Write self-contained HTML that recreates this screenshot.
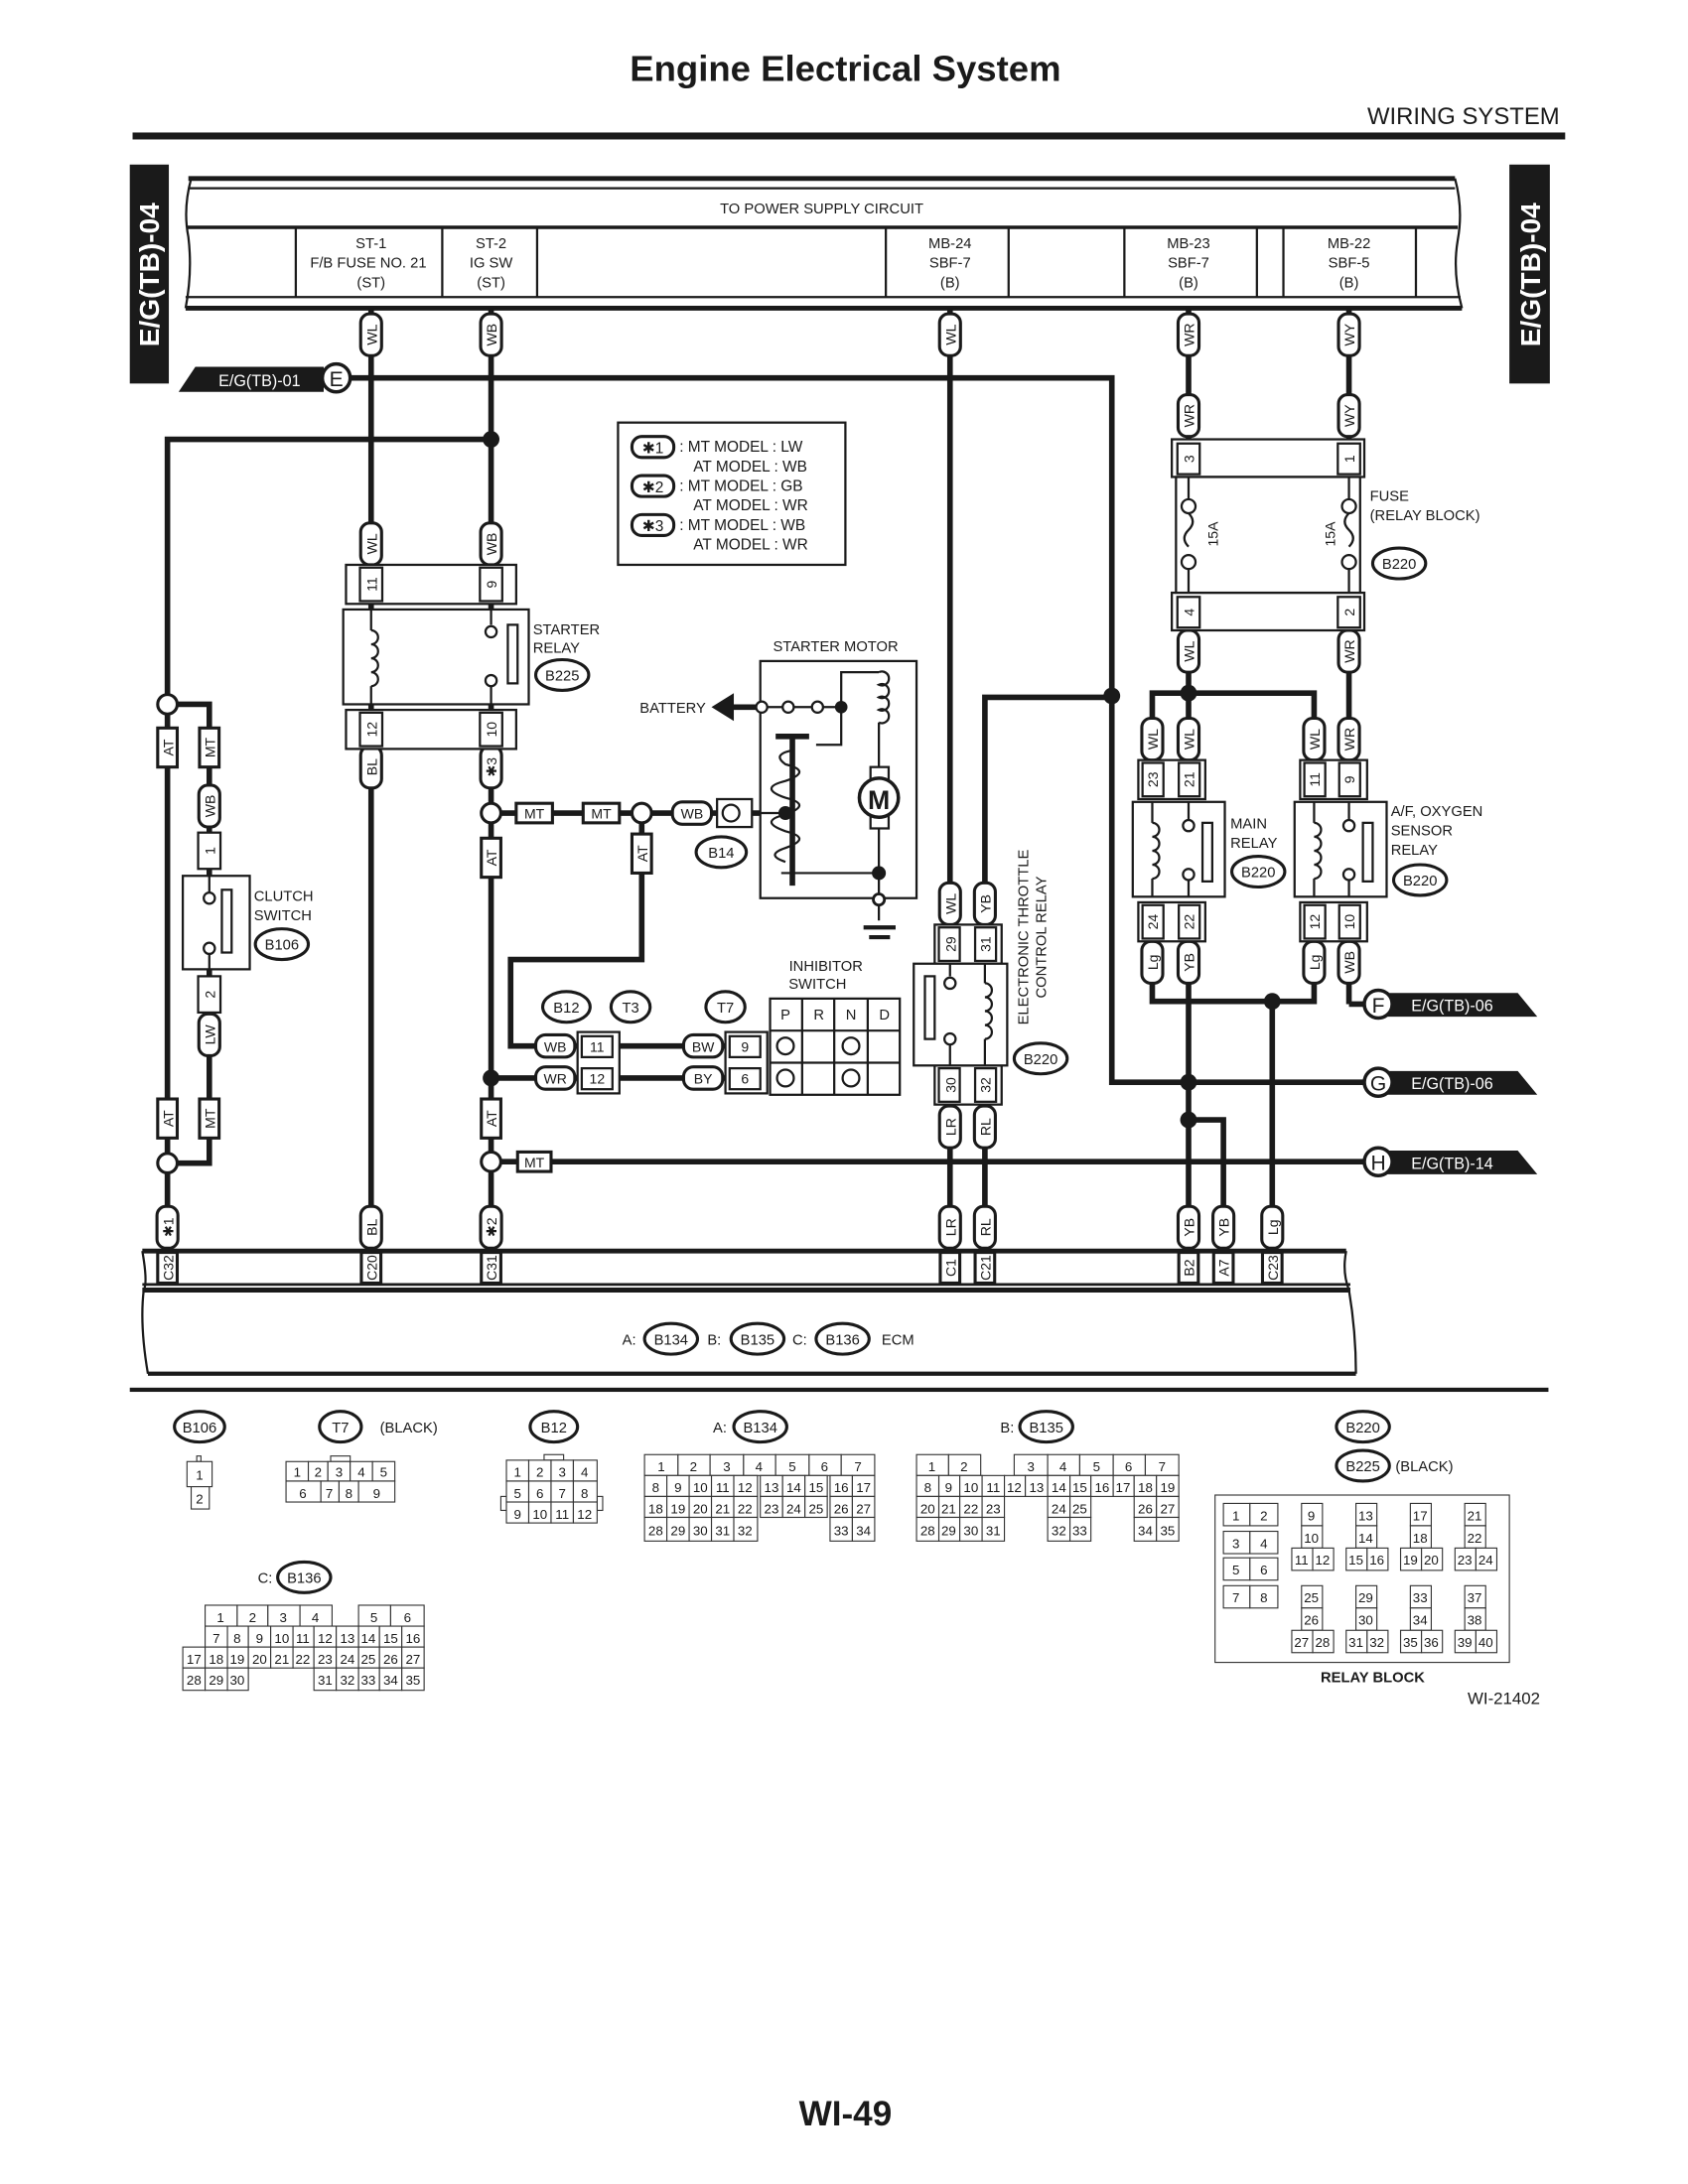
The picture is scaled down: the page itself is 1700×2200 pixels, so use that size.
<!DOCTYPE html>
<html><head><meta charset="utf-8"><style>
html,body{margin:0;padding:0;background:#fff}
svg{display:block}
text{font-family:"Liberation Sans",sans-serif;fill:#1a1a1a}
.w{stroke:#1a1a1a;stroke-width:4;fill:none}
.l{stroke:#1a1a1a;stroke-width:1.6;fill:none}
.b{fill:#fff}
.t{stroke:#1a1a1a;stroke-width:1;fill:none}
.tg{fill:#fff;stroke:#1a1a1a;stroke-width:2.2}
.s{font-size:10.5px}
.m{font-size:11.5px}
.g rect{fill:#fff;stroke:#333;stroke-width:.8}
.g text{font-size:9.5px;text-anchor:middle}
</style></head><body>
<svg width="1700" height="2200" viewBox="0 0 1210 1566" xmlns="http://www.w3.org/2000/svg">
<defs>
<g id="vt"><rect x="-7.5" y="-15" width="15" height="30" rx="6.5" class="tg"/></g>
</defs>
<!-- Header -->
<text x="606" y="58" font-size="26" font-weight="bold" text-anchor="middle">Engine Electrical System</text>
<text x="1118" y="89" font-size="17" text-anchor="end">WIRING SYSTEM</text>
<rect x="95" y="95" width="1027" height="5" fill="#1a1a1a"/>
<!-- side tabs -->
<rect x="93" y="118" width="28" height="157" fill="#1a1a1a"/>
<text transform="translate(114,197) rotate(-90)" font-size="20" font-weight="bold" text-anchor="middle" style="fill:#fff">E/G(TB)-04</text>
<rect x="1082" y="118" width="29" height="157" fill="#1a1a1a"/>
<text transform="translate(1104,197) rotate(-90)" font-size="20" font-weight="bold" text-anchor="middle" style="fill:#fff">E/G(TB)-04</text>

<!-- Power supply box -->
<g class="l" stroke-width="2.2">
<line x1="135" y1="128" x2="1043" y2="128" stroke-width="3.5"/>
<line x1="135" y1="135" x2="1043" y2="135"/>
<line x1="134" y1="163" x2="1045" y2="163" stroke-width="2.5"/>
<line x1="133" y1="213" x2="1047" y2="213"/>
<line x1="133" y1="221" x2="1048" y2="221" stroke-width="3.5"/>
<path d="M137 128 Q131 150 135 170 Q138 195 133 221"/>
<path d="M1043 128 Q1049 150 1045 172 Q1041 195 1048 221"/>
</g>
<g class="l">
<line x1="212" y1="163" x2="212" y2="213"/><line x1="317" y1="163" x2="317" y2="213"/>
<line x1="385" y1="163" x2="385" y2="213"/><line x1="635" y1="163" x2="635" y2="213"/>
<line x1="723" y1="163" x2="723" y2="213"/><line x1="806" y1="163" x2="806" y2="213"/>
<line x1="901" y1="163" x2="901" y2="213"/><line x1="920" y1="163" x2="920" y2="213"/>
<line x1="1015" y1="163" x2="1015" y2="213"/>
</g>
<text x="589" y="153" class="s" text-anchor="middle">TO POWER SUPPLY CIRCUIT</text>
<g class="s" text-anchor="middle">
<text x="266" y="178">ST-1</text><text x="264" y="192">F/B FUSE NO. 21</text><text x="266" y="206">(ST)</text>
<text x="352" y="178">ST-2</text><text x="352" y="192">IG SW</text><text x="352" y="206">(ST)</text>
<text x="681" y="178">MB-24</text><text x="681" y="192">SBF-7</text><text x="681" y="206">(B)</text>
<text x="852" y="178">MB-23</text><text x="852" y="192">SBF-7</text><text x="852" y="206">(B)</text>
<text x="967" y="178">MB-22</text><text x="967" y="192">SBF-5</text><text x="967" y="206">(B)</text>
</g>

<!-- WIRES -->
<g class="w">
<line x1="266" y1="222" x2="266" y2="897"/>
<line x1="352" y1="222" x2="352" y2="897"/>
<line x1="681" y1="222" x2="681" y2="897"/>
<line x1="852" y1="222" x2="852" y2="318"/>
<line x1="967" y1="222" x2="967" y2="318"/>
<polyline points="250,271 797,271 797,776 990,776"/>
<polyline points="352,315 120,315 120,897"/>
<polyline points="120,505 150,505 150,834 120,834"/>
<line x1="352" y1="583" x2="545" y2="583"/>
<polyline points="460,583 460,688 366,688 366,750 440,750"/>
<line x1="352" y1="773" x2="440" y2="773"/>
<line x1="440" y1="750" x2="520" y2="750"/>
<line x1="440" y1="773" x2="520" y2="773"/>
<line x1="352" y1="833" x2="990" y2="833"/>
<polyline points="706,640 706,500 797,500"/>
<line x1="706" y1="790" x2="706" y2="897"/>
<line x1="852" y1="450" x2="852" y2="545"/>
<line x1="967" y1="450" x2="967" y2="545"/>
<polyline points="826,545 826,497 942,497 942,545"/>
<line x1="852" y1="673" x2="852" y2="897"/>
<polyline points="826,673 826,718 942,718 942,673"/>
<line x1="967" y1="673" x2="967" y2="720"/>
<line x1="967" y1="720" x2="990" y2="720"/>
<line x1="912" y1="718" x2="912" y2="897"/>
<polyline points="852,803 877,803 877,897"/>
</g>
<!-- Dots -->
<g fill="#1a1a1a">
<circle cx="352" cy="315" r="6"/><circle cx="797" cy="499" r="6"/><circle cx="852" cy="497" r="6"/>
<circle cx="352" cy="773" r="6"/><circle cx="912" cy="718" r="6"/><circle cx="852" cy="776" r="6"/><circle cx="852" cy="803" r="6"/>
</g>
<g fill="#fff" stroke="#1a1a1a" stroke-width="2.2">
<circle cx="120" cy="505" r="7"/><circle cx="120" cy="834" r="7"/>
<circle cx="352" cy="583" r="7"/><circle cx="460" cy="583" r="7"/><circle cx="352" cy="833" r="7"/>
</g>

<!-- E/G(TB)-01 arrow -->
<polygon points="128,281 140,263 232,263 232,281" fill="#1a1a1a"/>
<text x="186" y="277" class="m" text-anchor="middle" style="fill:#fff">E/G(TB)-01</text>
<circle cx="241" cy="271" r="10" fill="#fff" stroke="#1a1a1a" stroke-width="2.5"/>
<text x="241" y="277" font-size="15" text-anchor="middle">E</text>
<!-- F G H -->
<g>
<polygon points="990,712 1088,712 1102,729 990,729" fill="#1a1a1a"/>
<circle cx="988" cy="720" r="10" fill="#fff" stroke="#1a1a1a" stroke-width="2.5"/>
<text x="988" y="726" font-size="15" text-anchor="middle">F</text>
<text x="1041" y="725" class="m" text-anchor="middle" style="fill:#fff">E/G(TB)-06</text>
<polygon points="990,768 1088,768 1102,785 990,785" fill="#1a1a1a"/>
<circle cx="988" cy="776" r="10" fill="#fff" stroke="#1a1a1a" stroke-width="2.5"/>
<text x="988" y="782" font-size="15" text-anchor="middle">G</text>
<text x="1041" y="781" class="m" text-anchor="middle" style="fill:#fff">E/G(TB)-06</text>
<polygon points="990,825 1088,825 1102,842 990,842" fill="#1a1a1a"/>
<circle cx="988" cy="833" r="10" fill="#fff" stroke="#1a1a1a" stroke-width="2.5"/>
<text x="988" y="839" font-size="15" text-anchor="middle">H</text>
<text x="1041" y="838" class="m" text-anchor="middle" style="fill:#fff">E/G(TB)-14</text>
</g>

<!-- Vertical wire tags -->
<g font-size="10" text-anchor="middle">
<g transform="translate(266,240)"><use href="#vt"/><text transform="rotate(-90)" y="4">WL</text></g>
<g transform="translate(352,240)"><use href="#vt"/><text transform="rotate(-90)" y="4">WB</text></g>
<g transform="translate(681,240)"><use href="#vt"/><text transform="rotate(-90)" y="4">WL</text></g>
<g transform="translate(852,240)"><use href="#vt"/><text transform="rotate(-90)" y="4">WR</text></g>
<g transform="translate(967,240)"><use href="#vt"/><text transform="rotate(-90)" y="4">WY</text></g>
<g transform="translate(852,298)"><use href="#vt"/><text transform="rotate(-90)" y="4">WR</text></g>
<g transform="translate(967,298)"><use href="#vt"/><text transform="rotate(-90)" y="4">WY</text></g>
<g transform="translate(266,390)"><use href="#vt"/><text transform="rotate(-90)" y="4">WL</text></g>
<g transform="translate(352,390)"><use href="#vt"/><text transform="rotate(-90)" y="4">WB</text></g>
<g transform="translate(266,550)"><use href="#vt"/><text transform="rotate(-90)" y="4">BL</text></g>
<g transform="translate(352,550)"><use href="#vt"/><text transform="rotate(-90)" y="4">✱3</text></g>
<g transform="translate(150,578)"><use href="#vt"/><text transform="rotate(-90)" y="4">WB</text></g>
<g transform="translate(150,742)"><use href="#vt"/><text transform="rotate(-90)" y="4">LW</text></g>
<g transform="translate(852,467)"><use href="#vt"/><text transform="rotate(-90)" y="4">WL</text></g>
<g transform="translate(967,467)"><use href="#vt"/><text transform="rotate(-90)" y="4">WR</text></g>
<g transform="translate(826,530)"><use href="#vt"/><text transform="rotate(-90)" y="4">WL</text></g>
<g transform="translate(852,530)"><use href="#vt"/><text transform="rotate(-90)" y="4">WL</text></g>
<g transform="translate(942,530)"><use href="#vt"/><text transform="rotate(-90)" y="4">WL</text></g>
<g transform="translate(967,530)"><use href="#vt"/><text transform="rotate(-90)" y="4">WR</text></g>
<g transform="translate(826,690)"><use href="#vt"/><text transform="rotate(-90)" y="4">Lg</text></g>
<g transform="translate(852,690)"><use href="#vt"/><text transform="rotate(-90)" y="4">YB</text></g>
<g transform="translate(942,690)"><use href="#vt"/><text transform="rotate(-90)" y="4">Lg</text></g>
<g transform="translate(967,690)"><use href="#vt"/><text transform="rotate(-90)" y="4">WB</text></g>
<g transform="translate(681,648)"><use href="#vt"/><text transform="rotate(-90)" y="4">WL</text></g>
<g transform="translate(706,648)"><use href="#vt"/><text transform="rotate(-90)" y="4">YB</text></g>
<g transform="translate(681,808)"><use href="#vt"/><text transform="rotate(-90)" y="4">LR</text></g>
<g transform="translate(706,808)"><use href="#vt"/><text transform="rotate(-90)" y="4">RL</text></g>
<g transform="translate(120,880)"><use href="#vt"/><text transform="rotate(-90)" y="4">✱1</text></g>
<g transform="translate(266,880)"><use href="#vt"/><text transform="rotate(-90)" y="4">BL</text></g>
<g transform="translate(352,880)"><use href="#vt"/><text transform="rotate(-90)" y="4">✱2</text></g>
<g transform="translate(681,880)"><use href="#vt"/><text transform="rotate(-90)" y="4">LR</text></g>
<g transform="translate(706,880)"><use href="#vt"/><text transform="rotate(-90)" y="4">RL</text></g>
<g transform="translate(852,880)"><use href="#vt"/><text transform="rotate(-90)" y="4">YB</text></g>
<g transform="translate(877,880)"><use href="#vt"/><text transform="rotate(-90)" y="4">YB</text></g>
<g transform="translate(912,880)"><use href="#vt"/><text transform="rotate(-90)" y="4">Lg</text></g>
</g>
<!-- square vertical tags (AT/MT) -->
<g font-size="10" text-anchor="middle">
<g transform="translate(120,536)"><rect x="-7" y="-14" width="14" height="28" class="tg"/><text transform="rotate(-90)" y="4">AT</text></g>
<g transform="translate(150,536)"><rect x="-7" y="-14" width="14" height="28" class="tg"/><text transform="rotate(-90)" y="4">MT</text></g>
<g transform="translate(120,802)"><rect x="-7" y="-14" width="14" height="28" class="tg"/><text transform="rotate(-90)" y="4">AT</text></g>
<g transform="translate(150,802)"><rect x="-7" y="-14" width="14" height="28" class="tg"/><text transform="rotate(-90)" y="4">MT</text></g>
<g transform="translate(352,615)"><rect x="-7" y="-14" width="14" height="28" class="tg"/><text transform="rotate(-90)" y="4">AT</text></g>
<g transform="translate(460,612)"><rect x="-7" y="-14" width="14" height="28" class="tg"/><text transform="rotate(-90)" y="4">AT</text></g>
<g transform="translate(352,802)"><rect x="-7" y="-14" width="14" height="28" class="tg"/><text transform="rotate(-90)" y="4">AT</text></g>
<!-- horizontal -->
<g transform="translate(383,583)"><rect x="-13" y="-7" width="26" height="14" class="tg"/><text y="4">MT</text></g>
<g transform="translate(431,583)"><rect x="-13" y="-7" width="26" height="14" class="tg"/><text y="4">MT</text></g>
<g transform="translate(383,833)"><rect x="-12" y="-7" width="24" height="14" class="tg"/><text y="4">MT</text></g>
<g transform="translate(496,583)"><rect x="-14" y="-8" width="28" height="16" rx="7" class="tg"/><text y="4">WB</text></g>
<g transform="translate(398,750)"><rect x="-14" y="-8" width="28" height="16" rx="7" class="tg"/><text y="4">WB</text></g>
<g transform="translate(398,773)"><rect x="-14" y="-8" width="28" height="16" rx="7" class="tg"/><text y="4">WR</text></g>
<g transform="translate(504,750)"><rect x="-14" y="-8" width="28" height="16" rx="7" class="tg"/><text y="4">BW</text></g>
<g transform="translate(504,773)"><rect x="-14" y="-8" width="28" height="16" rx="7" class="tg"/><text y="4">BY</text></g>
</g>

<!-- connector number boxes -->
<g font-size="10" text-anchor="middle">
<!-- starter relay -->
<rect x="248" y="405" width="122" height="28" class="l b" stroke-width="2.2"/>
<rect x="258" y="407" width="16" height="24" class="l b"/><text transform="translate(266,419) rotate(-90)" y="4">11</text>
<rect x="344" y="407" width="16" height="24" class="l b"/><text transform="translate(352,419) rotate(-90)" y="4">9</text>
<rect x="248" y="509" width="122" height="28" class="l b" stroke-width="2.2"/>
<rect x="258" y="511" width="16" height="24" class="l b"/><text transform="translate(266,523) rotate(-90)" y="4">12</text>
<rect x="344" y="511" width="16" height="24" class="l b"/><text transform="translate(352,523) rotate(-90)" y="4">10</text>
<!-- clutch -->
<rect x="142" y="597" width="16" height="26" class="l b" stroke-width="2.2"/><text transform="translate(150,610) rotate(-90)" y="4">1</text>
<rect x="142" y="700" width="16" height="26" class="l b" stroke-width="2.2"/><text transform="translate(150,713) rotate(-90)" y="4">2</text>
<!-- fuse block -->
<rect x="840" y="315" width="138" height="27" class="l b" stroke-width="2.2"/>
<rect x="844" y="318" width="16" height="22" class="l b"/><text transform="translate(852,329) rotate(-90)" y="4">3</text>
<rect x="959" y="318" width="16" height="22" class="l b"/><text transform="translate(967,329) rotate(-90)" y="4">1</text>
<rect x="840" y="425" width="138" height="27" class="l b" stroke-width="2.2"/>
<rect x="844" y="428" width="16" height="22" class="l b"/><text transform="translate(852,439) rotate(-90)" y="4">4</text>
<rect x="959" y="428" width="16" height="22" class="l b"/><text transform="translate(967,439) rotate(-90)" y="4">2</text>
<!-- main relay -->
<rect x="816" y="545" width="48" height="28" class="l b" stroke-width="2.2"/>
<rect x="819" y="547" width="15" height="24" class="l b"/><text transform="translate(826,559) rotate(-90)" y="4">23</text>
<rect x="845" y="547" width="15" height="24" class="l b"/><text transform="translate(852,559) rotate(-90)" y="4">21</text>
<rect x="816" y="647" width="48" height="28" class="l b" stroke-width="2.2"/>
<rect x="819" y="649" width="15" height="24" class="l b"/><text transform="translate(826,661) rotate(-90)" y="4">24</text>
<rect x="845" y="649" width="15" height="24" class="l b"/><text transform="translate(852,661) rotate(-90)" y="4">22</text>
<!-- AF relay -->
<rect x="932" y="545" width="48" height="28" class="l b" stroke-width="2.2"/>
<rect x="935" y="547" width="15" height="24" class="l b"/><text transform="translate(942,559) rotate(-90)" y="4">11</text>
<rect x="960" y="547" width="15" height="24" class="l b"/><text transform="translate(967,559) rotate(-90)" y="4">9</text>
<rect x="932" y="647" width="48" height="28" class="l b" stroke-width="2.2"/>
<rect x="935" y="649" width="15" height="24" class="l b"/><text transform="translate(942,661) rotate(-90)" y="4">12</text>
<rect x="960" y="649" width="15" height="24" class="l b"/><text transform="translate(967,661) rotate(-90)" y="4">10</text>
<!-- ETC relay -->
<rect x="670" y="663" width="48" height="28" class="l b" stroke-width="2.2"/>
<rect x="673" y="665" width="15" height="24" class="l b"/><text transform="translate(681,677) rotate(-90)" y="4">29</text>
<rect x="699" y="665" width="15" height="24" class="l b"/><text transform="translate(706,677) rotate(-90)" y="4">31</text>
<rect x="670" y="764" width="48" height="28" class="l b" stroke-width="2.2"/>
<rect x="673" y="766" width="15" height="24" class="l b"/><text transform="translate(681,778) rotate(-90)" y="4">30</text>
<rect x="699" y="766" width="15" height="24" class="l b"/><text transform="translate(706,778) rotate(-90)" y="4">32</text>
<!-- B12/T7 connectors -->
<rect x="414" y="740" width="30" height="44" class="l b" stroke-width="2.2"/>
<rect x="417" y="743" width="22" height="15" class="l b"/><text x="428" y="754">11</text>
<rect x="417" y="766" width="22" height="15" class="l b"/><text x="428" y="777">12</text>
<rect x="520" y="740" width="30" height="44" class="l b" stroke-width="2.2"/>
<rect x="523" y="743" width="22" height="15" class="l b"/><text x="534" y="754">9</text>
<rect x="523" y="766" width="22" height="15" class="l b"/><text x="534" y="777">6</text>
</g>

<!-- Starter relay -->
<rect x="246" y="437" width="133" height="68" class="l b" stroke-width="2.2"/>
<g class="l" stroke-width="2">
<line x1="266" y1="437" x2="266" y2="452"/><path d="M266 452 a5 5 0 1 1 0 10 a5 5 0 1 1 0 10 a5 5 0 1 1 0 10 a5 5 0 1 1 0 10"/><line x1="266" y1="492" x2="266" y2="505"/>
<line x1="352" y1="437" x2="352" y2="448"/><circle cx="352" cy="453" r="4"/><circle cx="352" cy="488" r="4"/><line x1="352" y1="492" x2="352" y2="505"/>
<rect x="364" y="448" width="7" height="42"/>
</g>
<text x="382" y="455" class="s">STARTER</text><text x="382" y="468" class="s">RELAY</text>
<ellipse cx="403" cy="484" rx="19" ry="11" class="tg" stroke-width="2.5"/><text x="403" y="488" class="s" text-anchor="middle">B225</text>

<!-- Clutch switch -->
<rect x="131" y="628" width="48" height="67" class="l b" stroke-width="2.2"/>
<g class="l" stroke-width="2"><line x1="150" y1="623" x2="150" y2="640"/><circle cx="150" cy="644" r="4"/><circle cx="150" cy="680" r="4"/><line x1="150" y1="684" x2="150" y2="700"/><rect x="159" y="638" width="7" height="45"/></g>
<text x="182" y="646" class="s">CLUTCH</text><text x="182" y="660" class="s">SWITCH</text>
<ellipse cx="202" cy="677" rx="19" ry="11" class="tg" stroke-width="2.5"/><text x="202" y="681" class="s" text-anchor="middle">B106</text>

<!-- Legend -->
<rect x="443" y="303" width="163" height="102" class="l b" stroke-width="2.2"/>
<g font-size="11">
<rect x="453" y="313" width="30" height="15" rx="7" class="tg"/><text x="468" y="325" text-anchor="middle">✱1</text>
<text x="487" y="324">: MT MODEL  : LW</text><text x="497" y="338">AT MODEL  : WB</text>
<rect x="453" y="341" width="30" height="15" rx="7" class="tg"/><text x="468" y="353" text-anchor="middle">✱2</text>
<text x="487" y="352">: MT MODEL  : GB</text><text x="497" y="366">AT MODEL  : WR</text>
<rect x="453" y="369" width="30" height="15" rx="7" class="tg"/><text x="468" y="381" text-anchor="middle">✱3</text>
<text x="487" y="380">: MT MODEL  : WB</text><text x="497" y="394">AT MODEL  : WR</text>
</g>

<!-- Fuse block body -->
<rect x="843" y="342" width="132" height="83" class="l b" stroke-width="2.2"/>
<g class="l" stroke-width="2">
<line x1="852" y1="342" x2="852" y2="358"/><circle cx="852" cy="363" r="5" class="b"/><path d="M852 368 q6 6 0 12 q-6 6 0 12"/><circle cx="852" cy="403" r="5" class="b"/><line x1="852" y1="408" x2="852" y2="425"/>
<line x1="967" y1="342" x2="967" y2="358"/><circle cx="967" cy="363" r="5" class="b"/><path d="M967 368 q-6 6 0 12 q6 6 0 12"/><circle cx="967" cy="403" r="5" class="b"/><line x1="967" y1="408" x2="967" y2="425"/>
</g>
<text transform="translate(873,383) rotate(-90)" font-size="10" text-anchor="middle">15A</text>
<text transform="translate(957,383) rotate(-90)" font-size="10" text-anchor="middle">15A</text>
<text x="982" y="359" class="s">FUSE</text><text x="982" y="373" class="s">(RELAY BLOCK)</text>
<ellipse cx="1003" cy="404" rx="19" ry="11" class="tg" stroke-width="2.5"/><text x="1003" y="408" class="s" text-anchor="middle">B220</text>

<!-- Starter motor -->
<text x="599" y="467" class="s" text-anchor="middle">STARTER MOTOR</text>
<rect x="545" y="474" width="112" height="170" class="l" stroke-width="2.5"/>
<line x1="525" y1="507" x2="545" y2="507" class="w"/>
<polygon points="510,507 526,497 526,517" fill="#1a1a1a"/>
<text x="506" y="511" class="s" text-anchor="end">BATTERY</text>
<g class="l" stroke-width="2">
<line x1="545" y1="507" x2="590" y2="507"/>
<circle cx="546" cy="507" r="4" class="b"/><circle cx="565" cy="507" r="4" class="b"/><circle cx="586" cy="507" r="4" class="b"/>
<line x1="590" y1="507" x2="603" y2="507"/>
<polyline points="603,507 603,482 630,482"/>
<path d="M630 482 a5 5 0 1 1 0 9 a5 5 0 1 1 0 9 a5 5 0 1 1 0 9 a5 5 0 1 1 0 9 M630 518 L630 550"/>
<rect x="624" y="550" width="13" height="44"/><circle cx="630" cy="572" r="14" class="b" stroke-width="2.5"/>
<polyline points="603,507 603,534 585,534"/>
<line x1="630" y1="594" x2="630" y2="660"/>
<line x1="560" y1="626" x2="630" y2="626"/>
<line x1="556" y1="528" x2="580" y2="528" stroke-width="4"/>
<line x1="568" y1="528" x2="568" y2="635" stroke-width="4"/>
<path d="M568 538 q-15 3 -5 10 q20 5 0 12 q-20 5 0 12 q20 5 0 12 q-20 5 0 12 q20 5 0 12 q-15 5 0 10"/>
<line x1="540" y1="583" x2="563" y2="583"/>
<line x1="619" y1="665" x2="642" y2="665" stroke-width="3"/><line x1="623" y1="672" x2="638" y2="672" stroke-width="3"/>
</g>
<text x="630" y="580" font-size="19" font-weight="bold" text-anchor="middle">M</text>
<circle cx="603" cy="507" r="4.5" fill="#1a1a1a"/><circle cx="630" cy="626" r="5" fill="#1a1a1a"/><circle cx="563" cy="583" r="5" fill="#1a1a1a"/>
<circle cx="630" cy="645" r="4" fill="#fff" stroke="#1a1a1a" stroke-width="2"/>
<rect x="514" y="573" width="25" height="20" class="l b" stroke-width="2.5"/><circle cx="524" cy="583" r="6" class="l" stroke-width="2"/>
<ellipse cx="517" cy="611" rx="18" ry="11" class="tg" stroke-width="2.5"/><text x="517" y="615" class="s" text-anchor="middle">B14</text>

<!-- Inhibitor switch -->
<text x="592" y="696" class="s" text-anchor="middle">INHIBITOR</text><text x="586" y="709" class="s" text-anchor="middle">SWITCH</text>
<g class="l"><rect x="552" y="716" width="93" height="69"/>
<line x1="552" y1="739" x2="645" y2="739"/><line x1="552" y1="762" x2="645" y2="762"/>
<line x1="575" y1="716" x2="575" y2="785"/><line x1="598" y1="716" x2="598" y2="785"/><line x1="622" y1="716" x2="622" y2="785"/>
<circle cx="563" cy="750" r="6"/><circle cx="610" cy="750" r="6"/><circle cx="563" cy="773" r="6"/><circle cx="610" cy="773" r="6"/></g>
<g class="s" text-anchor="middle"><text x="563" y="731">P</text><text x="587" y="731">R</text><text x="610" y="731">N</text><text x="634" y="731">D</text></g>
<g class="s" text-anchor="middle">
<ellipse cx="406" cy="722" rx="17" ry="11" class="tg" stroke-width="2.5"/><text x="406" y="726">B12</text>
<ellipse cx="452" cy="722" rx="14" ry="11" class="tg" stroke-width="2.5"/><text x="452" y="726">T3</text>
<ellipse cx="520" cy="722" rx="14" ry="11" class="tg" stroke-width="2.5"/><text x="520" y="726">T7</text>
</g>

<!-- ETC relay -->
<rect x="655" y="691" width="67" height="73" class="l b" stroke-width="2.2"/>
<g class="l" stroke-width="2">
<line x1="681" y1="691" x2="681" y2="700"/><circle cx="681" cy="705" r="4"/><circle cx="681" cy="745" r="4"/><line x1="681" y1="749" x2="681" y2="764"/>
<rect x="663" y="700" width="7" height="45"/>
<line x1="706" y1="691" x2="706" y2="705"/><path d="M706 705 a5 5 0 1 1 0 10 a5 5 0 1 1 0 10 a5 5 0 1 1 0 10 a5 5 0 1 1 0 10"/><line x1="706" y1="745" x2="706" y2="764"/>
</g>
<text transform="translate(737,672) rotate(-90)" class="s" text-anchor="middle">ELECTRONIC THROTTLE</text>
<text transform="translate(750,672) rotate(-90)" class="s" text-anchor="middle">CONTROL RELAY</text>
<ellipse cx="746" cy="759" rx="19" ry="11" class="tg" stroke-width="2.5"/><text x="746" y="763" class="s" text-anchor="middle">B220</text>

<!-- Main relay -->
<rect x="812" y="575" width="66" height="68" class="l b" stroke-width="2.2"/>
<g class="l" stroke-width="2">
<line x1="826" y1="575" x2="826" y2="590"/><path d="M826 590 a5 5 0 1 1 0 10 a5 5 0 1 1 0 10 a5 5 0 1 1 0 10 a5 5 0 1 1 0 10"/><line x1="826" y1="630" x2="826" y2="643"/>
<line x1="852" y1="575" x2="852" y2="588"/><circle cx="852" cy="592" r="4"/><circle cx="852" cy="627" r="4"/><line x1="852" y1="631" x2="852" y2="643"/>
<rect x="862" y="590" width="7" height="42"/>
</g>
<text x="882" y="594" class="s">MAIN</text><text x="882" y="608" class="s">RELAY</text>
<ellipse cx="902" cy="625" rx="19" ry="11" class="tg" stroke-width="2.5"/><text x="902" y="629" class="s" text-anchor="middle">B220</text>
<!-- AF relay -->
<rect x="928" y="575" width="66" height="68" class="l b" stroke-width="2.2"/>
<g class="l" stroke-width="2">
<line x1="942" y1="575" x2="942" y2="590"/><path d="M942 590 a5 5 0 1 1 0 10 a5 5 0 1 1 0 10 a5 5 0 1 1 0 10 a5 5 0 1 1 0 10"/><line x1="942" y1="630" x2="942" y2="643"/>
<line x1="967" y1="575" x2="967" y2="588"/><circle cx="967" cy="592" r="4"/><circle cx="967" cy="627" r="4"/><line x1="967" y1="631" x2="967" y2="643"/>
<rect x="977" y="590" width="7" height="42"/>
</g>
<text x="997" y="585" class="s">A/F, OXYGEN</text><text x="997" y="599" class="s">SENSOR</text><text x="997" y="613" class="s">RELAY</text>
<ellipse cx="1018" cy="631" rx="19" ry="11" class="tg" stroke-width="2.5"/><text x="1018" y="635" class="s" text-anchor="middle">B220</text>

<!-- ECM -->
<g class="l" stroke-width="2.2">
<line x1="102" y1="897" x2="965" y2="897" stroke-width="3.5"/>
<line x1="102" y1="921" x2="968" y2="921" stroke-width="2"/>
<line x1="102" y1="925" x2="968" y2="925" stroke-width="3.5"/>
<line x1="106" y1="985" x2="972" y2="985" stroke-width="3"/>
<path d="M102 897 Q106 920 103 925 Q100 950 106 985"/>
<path d="M965 897 Q962 912 967 925 Q972 955 972 985"/>
</g>
<g font-size="10" text-anchor="middle">
<g transform="translate(120,909)"><rect x="-7" y="-11" width="14" height="22" class="tg" stroke-width="1.5"/><text transform="rotate(-90)" y="4">C32</text></g>
<g transform="translate(266,909)"><rect x="-7" y="-11" width="14" height="22" class="tg" stroke-width="1.5"/><text transform="rotate(-90)" y="4">C20</text></g>
<g transform="translate(352,909)"><rect x="-7" y="-11" width="14" height="22" class="tg" stroke-width="1.5"/><text transform="rotate(-90)" y="4">C31</text></g>
<g transform="translate(681,909)"><rect x="-7" y="-11" width="14" height="22" class="tg" stroke-width="1.5"/><text transform="rotate(-90)" y="4">C1</text></g>
<g transform="translate(706,909)"><rect x="-7" y="-11" width="14" height="22" class="tg" stroke-width="1.5"/><text transform="rotate(-90)" y="4">C21</text></g>
<g transform="translate(852,909)"><rect x="-7" y="-11" width="14" height="22" class="tg" stroke-width="1.5"/><text transform="rotate(-90)" y="4">B2</text></g>
<g transform="translate(877,909)"><rect x="-7" y="-11" width="14" height="22" class="tg" stroke-width="1.5"/><text transform="rotate(-90)" y="4">A7</text></g>
<g transform="translate(912,909)"><rect x="-7" y="-11" width="14" height="22" class="tg" stroke-width="1.5"/><text transform="rotate(-90)" y="4">C23</text></g>
</g>
<g class="s">
<text x="446" y="964">A:</text>
<ellipse cx="481" cy="960" rx="19" ry="11" class="tg" stroke-width="2.5"/><text x="481" y="964" text-anchor="middle">B134</text>
<text x="507" y="964">B:</text>
<ellipse cx="543" cy="960" rx="19" ry="11" class="tg" stroke-width="2.5"/><text x="543" y="964" text-anchor="middle">B135</text>
<text x="568" y="964">C:</text>
<ellipse cx="604" cy="960" rx="19" ry="11" class="tg" stroke-width="2.5"/><text x="604" y="964" text-anchor="middle">B136</text>
<text x="632" y="964">ECM</text>
</g>
<rect x="93" y="995" width="1017" height="3" fill="#1a1a1a"/>

<!-- Bottom connector views -->
<g class="s" text-anchor="middle">
<ellipse cx="143" cy="1023" rx="18" ry="11" class="tg" stroke-width="2.5"/><text x="143" y="1027">B106</text>
<ellipse cx="244" cy="1023" rx="15" ry="11" class="tg" stroke-width="2.5"/><text x="244" y="1027">T7</text><text x="293" y="1027">(BLACK)</text>
<ellipse cx="397" cy="1023" rx="17" ry="11" class="tg" stroke-width="2.5"/><text x="397" y="1027">B12</text>
<text x="516" y="1027">A:</text><ellipse cx="545" cy="1023" rx="19" ry="11" class="tg" stroke-width="2.5"/><text x="545" y="1027">B134</text>
<text x="722" y="1027">B:</text><ellipse cx="750" cy="1023" rx="19" ry="11" class="tg" stroke-width="2.5"/><text x="750" y="1027">B135</text>
<text x="190" y="1135">C:</text><ellipse cx="218" cy="1131" rx="19" ry="11" class="tg" stroke-width="2.5"/><text x="218" y="1135">B136</text>
<ellipse cx="977" cy="1023" rx="19" ry="11" class="tg" stroke-width="2.5"/><text x="977" y="1027">B220</text>
<ellipse cx="977" cy="1051" rx="19" ry="11" class="tg" stroke-width="2.5"/><text x="977" y="1055">B225</text><text x="1021" y="1055">(BLACK)</text>
<text x="984" y="1206" font-weight="bold">RELAY BLOCK</text>
</g>
<text x="1104" y="1222" font-size="12" text-anchor="end">WI-21402</text>

<g class="g">
<!-- B106 -->
<rect x="141" y="1044" width="3" height="4"/><rect x="134" y="1048" width="18" height="18"/><text x="143" y="1061">1</text><rect x="137" y="1066" width="13" height="16"/><text x="143" y="1078">2</text>
<!-- T7 -->
<rect x="237" y="1044" width="14" height="4"/>
<rect x="205" y="1048" width="16" height="14"/><text x="213" y="1059">1</text>
<rect x="221" y="1048" width="14" height="14"/><text x="228" y="1059">2</text>
<rect x="235" y="1048" width="16" height="14"/><text x="243" y="1059">3</text>
<rect x="251" y="1048" width="16" height="14"/><text x="259" y="1059">4</text>
<rect x="267" y="1048" width="16" height="14"/><text x="275" y="1059">5</text>
<rect x="205" y="1062" width="25" height="15"/><text x="217" y="1074">6</text>
<rect x="230" y="1062" width="13" height="15"/><text x="236" y="1074">7</text>
<rect x="243" y="1062" width="14" height="15"/><text x="250" y="1074">8</text>
<rect x="257" y="1062" width="26" height="15"/><text x="270" y="1074">9</text>
<!-- B12 -->
<rect x="390" y="1043" width="14" height="4"/>
<rect x="359" y="1073" width="4" height="10"/><rect x="428" y="1073" width="4" height="10"/>
<rect x="363" y="1047" width="16" height="15"/><text x="371" y="1059">1</text>
<rect x="379" y="1047" width="16" height="15"/><text x="387" y="1059">2</text>
<rect x="395" y="1047" width="16" height="15"/><text x="403" y="1059">3</text>
<rect x="411" y="1047" width="17" height="15"/><text x="419" y="1059">4</text>
<rect x="363" y="1062" width="16" height="15"/><text x="371" y="1074">5</text>
<rect x="379" y="1062" width="16" height="15"/><text x="387" y="1074">6</text>
<rect x="395" y="1062" width="16" height="15"/><text x="403" y="1074">7</text>
<rect x="411" y="1062" width="17" height="15"/><text x="419" y="1074">8</text>
<rect x="363" y="1077" width="16" height="15"/><text x="371" y="1089">9</text>
<rect x="379" y="1077" width="16" height="15"/><text x="387" y="1089">10</text>
<rect x="395" y="1077" width="16" height="15"/><text x="403" y="1089">11</text>
<rect x="411" y="1077" width="17" height="15"/><text x="419" y="1089">12</text>
<!-- A:B134 -->
<rect x="462" y="1043" width="24" height="15"/><text x="474" y="1055">1</text>
<rect x="486" y="1043" width="23" height="15"/><text x="497" y="1055">2</text>
<rect x="509" y="1043" width="24" height="15"/><text x="521" y="1055">3</text>
<rect x="533" y="1043" width="23" height="15"/><text x="544" y="1055">4</text>
<rect x="556" y="1043" width="24" height="15"/><text x="568" y="1055">5</text>
<rect x="580" y="1043" width="23" height="15"/><text x="591" y="1055">6</text>
<rect x="603" y="1043" width="24" height="15"/><text x="615" y="1055">7</text>
<rect x="462" y="1058" width="16" height="15"/><text x="470" y="1070">8</text>
<rect x="478" y="1058" width="16" height="15"/><text x="486" y="1070">9</text>
<rect x="494" y="1058" width="16" height="15"/><text x="502" y="1070">10</text>
<rect x="510" y="1058" width="16" height="15"/><text x="518" y="1070">11</text>
<rect x="526" y="1058" width="17" height="15"/><text x="534" y="1070">12</text>
<rect x="545" y="1058" width="16" height="15"/><text x="553" y="1070">13</text>
<rect x="561" y="1058" width="16" height="15"/><text x="569" y="1070">14</text>
<rect x="577" y="1058" width="16" height="15"/><text x="585" y="1070">15</text>
<rect x="595" y="1058" width="16" height="15"/><text x="603" y="1070">16</text>
<rect x="611" y="1058" width="16" height="15"/><text x="619" y="1070">17</text>
<rect x="462" y="1073" width="16" height="15"/><text x="470" y="1085">18</text>
<rect x="478" y="1073" width="16" height="15"/><text x="486" y="1085">19</text>
<rect x="494" y="1073" width="16" height="15"/><text x="502" y="1085">20</text>
<rect x="510" y="1073" width="16" height="15"/><text x="518" y="1085">21</text>
<rect x="526" y="1073" width="17" height="15"/><text x="534" y="1085">22</text>
<rect x="545" y="1073" width="16" height="15"/><text x="553" y="1085">23</text>
<rect x="561" y="1073" width="16" height="15"/><text x="569" y="1085">24</text>
<rect x="577" y="1073" width="16" height="15"/><text x="585" y="1085">25</text>
<rect x="595" y="1073" width="16" height="15"/><text x="603" y="1085">26</text>
<rect x="611" y="1073" width="16" height="15"/><text x="619" y="1085">27</text>
<rect x="462" y="1088" width="16" height="17"/><text x="470" y="1101">28</text>
<rect x="478" y="1088" width="16" height="17"/><text x="486" y="1101">29</text>
<rect x="494" y="1088" width="16" height="17"/><text x="502" y="1101">30</text>
<rect x="510" y="1088" width="16" height="17"/><text x="518" y="1101">31</text>
<rect x="526" y="1088" width="17" height="17"/><text x="534" y="1101">32</text>
<rect x="595" y="1088" width="16" height="17"/><text x="603" y="1101">33</text>
<rect x="611" y="1088" width="16" height="17"/><text x="619" y="1101">34</text>
<!-- B:B135 -->
<rect x="657" y="1043" width="23" height="15"/><text x="668" y="1055">1</text>
<rect x="680" y="1043" width="23" height="15"/><text x="691" y="1055">2</text>
<rect x="727" y="1043" width="24" height="15"/><text x="739" y="1055">3</text>
<rect x="751" y="1043" width="23" height="15"/><text x="762" y="1055">4</text>
<rect x="774" y="1043" width="24" height="15"/><text x="786" y="1055">5</text>
<rect x="798" y="1043" width="23" height="15"/><text x="809" y="1055">6</text>
<rect x="821" y="1043" width="24" height="15"/><text x="833" y="1055">7</text>
<rect x="657" y="1058" width="16" height="15"/><text x="665" y="1070">8</text>
<rect x="673" y="1058" width="15" height="15"/><text x="680" y="1070">9</text>
<rect x="688" y="1058" width="16" height="15"/><text x="696" y="1070">10</text>
<rect x="704" y="1058" width="16" height="15"/><text x="712" y="1070">11</text>
<rect x="720" y="1058" width="15" height="15"/><text x="727" y="1070">12</text>
<rect x="735" y="1058" width="16" height="15"/><text x="743" y="1070">13</text>
<rect x="751" y="1058" width="16" height="15"/><text x="759" y="1070">14</text>
<rect x="767" y="1058" width="15" height="15"/><text x="774" y="1070">15</text>
<rect x="782" y="1058" width="16" height="15"/><text x="790" y="1070">16</text>
<rect x="798" y="1058" width="15" height="15"/><text x="805" y="1070">17</text>
<rect x="813" y="1058" width="16" height="15"/><text x="821" y="1070">18</text>
<rect x="829" y="1058" width="16" height="15"/><text x="837" y="1070">19</text>
<rect x="657" y="1073" width="16" height="15"/><text x="665" y="1085">20</text>
<rect x="673" y="1073" width="15" height="15"/><text x="680" y="1085">21</text>
<rect x="688" y="1073" width="16" height="15"/><text x="696" y="1085">22</text>
<rect x="704" y="1073" width="16" height="15"/><text x="712" y="1085">23</text>
<rect x="751" y="1073" width="16" height="15"/><text x="759" y="1085">24</text>
<rect x="767" y="1073" width="15" height="15"/><text x="774" y="1085">25</text>
<rect x="813" y="1073" width="16" height="15"/><text x="821" y="1085">26</text>
<rect x="829" y="1073" width="16" height="15"/><text x="837" y="1085">27</text>
<rect x="657" y="1088" width="16" height="17"/><text x="665" y="1101">28</text>
<rect x="673" y="1088" width="15" height="17"/><text x="680" y="1101">29</text>
<rect x="688" y="1088" width="16" height="17"/><text x="696" y="1101">30</text>
<rect x="704" y="1088" width="16" height="17"/><text x="712" y="1101">31</text>
<rect x="751" y="1088" width="16" height="17"/><text x="759" y="1101">32</text>
<rect x="767" y="1088" width="15" height="17"/><text x="774" y="1101">33</text>
<rect x="813" y="1088" width="16" height="17"/><text x="821" y="1101">34</text>
<rect x="829" y="1088" width="16" height="17"/><text x="837" y="1101">35</text>
<!-- C:B136 -->
<rect x="147" y="1151" width="23" height="15"/><text x="158" y="1163">1</text>
<rect x="170" y="1151" width="22" height="15"/><text x="181" y="1163">2</text>
<rect x="192" y="1151" width="23" height="15"/><text x="203" y="1163">3</text>
<rect x="215" y="1151" width="23" height="15"/><text x="226" y="1163">4</text>
<rect x="257" y="1151" width="23" height="15"/><text x="268" y="1163">5</text>
<rect x="280" y="1151" width="24" height="15"/><text x="292" y="1163">6</text>
<rect x="147" y="1166" width="16" height="15"/><text x="155" y="1178">7</text>
<rect x="163" y="1166" width="15" height="15"/><text x="170" y="1178">8</text>
<rect x="178" y="1166" width="16" height="15"/><text x="186" y="1178">9</text>
<rect x="194" y="1166" width="16" height="15"/><text x="202" y="1178">10</text>
<rect x="210" y="1166" width="15" height="15"/><text x="217" y="1178">11</text>
<rect x="225" y="1166" width="16" height="15"/><text x="233" y="1178">12</text>
<rect x="241" y="1166" width="16" height="15"/><text x="249" y="1178">13</text>
<rect x="257" y="1166" width="15" height="15"/><text x="264" y="1178">14</text>
<rect x="272" y="1166" width="16" height="15"/><text x="280" y="1178">15</text>
<rect x="288" y="1166" width="16" height="15"/><text x="296" y="1178">16</text>
<rect x="131" y="1181" width="16" height="15"/><text x="139" y="1193">17</text>
<rect x="147" y="1181" width="16" height="15"/><text x="155" y="1193">18</text>
<rect x="163" y="1181" width="15" height="15"/><text x="170" y="1193">19</text>
<rect x="178" y="1181" width="16" height="15"/><text x="186" y="1193">20</text>
<rect x="194" y="1181" width="16" height="15"/><text x="202" y="1193">21</text>
<rect x="210" y="1181" width="15" height="15"/><text x="217" y="1193">22</text>
<rect x="225" y="1181" width="16" height="15"/><text x="233" y="1193">23</text>
<rect x="241" y="1181" width="16" height="15"/><text x="249" y="1193">24</text>
<rect x="257" y="1181" width="15" height="15"/><text x="264" y="1193">25</text>
<rect x="272" y="1181" width="16" height="15"/><text x="280" y="1193">26</text>
<rect x="288" y="1181" width="16" height="15"/><text x="296" y="1193">27</text>
<rect x="131" y="1196" width="16" height="16"/><text x="139" y="1208">28</text>
<rect x="147" y="1196" width="16" height="16"/><text x="155" y="1208">29</text>
<rect x="163" y="1196" width="15" height="16"/><text x="170" y="1208">30</text>
<rect x="225" y="1196" width="16" height="16"/><text x="233" y="1208">31</text>
<rect x="241" y="1196" width="16" height="16"/><text x="249" y="1208">32</text>
<rect x="257" y="1196" width="15" height="16"/><text x="264" y="1208">33</text>
<rect x="272" y="1196" width="16" height="16"/><text x="280" y="1208">34</text>
<rect x="288" y="1196" width="16" height="16"/><text x="296" y="1208">35</text>
<!-- Relay block -->
<rect x="871" y="1072" width="211" height="120"/>
<rect x="877" y="1078" width="19" height="16"/><text x="886" y="1090">1</text><rect x="896" y="1078" width="20" height="16"/><text x="906" y="1090">2</text>
<rect x="877" y="1098" width="19" height="16"/><text x="886" y="1110">3</text><rect x="896" y="1098" width="20" height="16"/><text x="906" y="1110">4</text>
<rect x="877" y="1117" width="19" height="16"/><text x="886" y="1129">5</text><rect x="896" y="1117" width="20" height="16"/><text x="906" y="1129">6</text>
<rect x="877" y="1137" width="19" height="16"/><text x="886" y="1149">7</text><rect x="896" y="1137" width="20" height="16"/><text x="906" y="1149">8</text>
<rect x="933" y="1078" width="15" height="16"/><text x="940" y="1090">9</text>
<rect x="933" y="1094" width="15" height="16"/><text x="940" y="1106">10</text>
<rect x="926" y="1110" width="15" height="16"/><text x="933" y="1122">11</text><rect x="941" y="1110" width="15" height="16"/><text x="948" y="1122">12</text>
<rect x="972" y="1078" width="15" height="16"/><text x="979" y="1090">13</text>
<rect x="972" y="1094" width="15" height="16"/><text x="979" y="1106">14</text>
<rect x="965" y="1110" width="15" height="16"/><text x="972" y="1122">15</text><rect x="980" y="1110" width="15" height="16"/><text x="987" y="1122">16</text>
<rect x="1011" y="1078" width="15" height="16"/><text x="1018" y="1090">17</text>
<rect x="1011" y="1094" width="15" height="16"/><text x="1018" y="1106">18</text>
<rect x="1004" y="1110" width="15" height="16"/><text x="1011" y="1122">19</text><rect x="1019" y="1110" width="15" height="16"/><text x="1026" y="1122">20</text>
<rect x="1050" y="1078" width="15" height="16"/><text x="1057" y="1090">21</text>
<rect x="1050" y="1094" width="15" height="16"/><text x="1057" y="1106">22</text>
<rect x="1043" y="1110" width="15" height="16"/><text x="1050" y="1122">23</text><rect x="1058" y="1110" width="15" height="16"/><text x="1065" y="1122">24</text>
<rect x="933" y="1137" width="15" height="16"/><text x="940" y="1149">25</text>
<rect x="933" y="1153" width="15" height="16"/><text x="940" y="1165">26</text>
<rect x="926" y="1169" width="15" height="16"/><text x="933" y="1181">27</text><rect x="941" y="1169" width="15" height="16"/><text x="948" y="1181">28</text>
<rect x="972" y="1137" width="15" height="16"/><text x="979" y="1149">29</text>
<rect x="972" y="1153" width="15" height="16"/><text x="979" y="1165">30</text>
<rect x="965" y="1169" width="15" height="16"/><text x="972" y="1181">31</text><rect x="980" y="1169" width="15" height="16"/><text x="987" y="1181">32</text>
<rect x="1011" y="1137" width="15" height="16"/><text x="1018" y="1149">33</text>
<rect x="1011" y="1153" width="15" height="16"/><text x="1018" y="1165">34</text>
<rect x="1004" y="1169" width="15" height="16"/><text x="1011" y="1181">35</text><rect x="1019" y="1169" width="15" height="16"/><text x="1026" y="1181">36</text>
<rect x="1050" y="1137" width="15" height="16"/><text x="1057" y="1149">37</text>
<rect x="1050" y="1153" width="15" height="16"/><text x="1057" y="1165">38</text>
<rect x="1043" y="1169" width="15" height="16"/><text x="1050" y="1181">39</text><rect x="1058" y="1169" width="15" height="16"/><text x="1065" y="1181">40</text>
</g>

<text x="606" y="1524" font-size="25" font-weight="bold" text-anchor="middle">WI-49</text>
</svg>
</body></html>
